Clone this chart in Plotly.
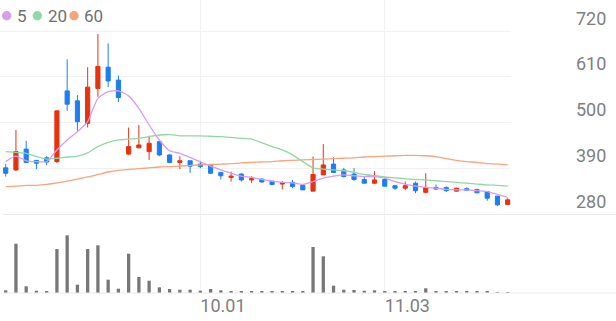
import plotly.graph_objects as go

# ---------------- data ----------------
idx = list(range(50))
opens = [391, 386, 436, 409, 415, 406, 576, 552, 498, 582,
         633, 602, 424, 439, 430, 454, 422, 404, 408, 400,
         398, 380, 368, 376, 362, 364, 359, 352, 356, 349,
         335, 374, 400, 386, 376, 363, 354, 363, 348, 342,
         354, 332, 344, 344, 335, 341, 339, 334, 323, 303]
highs = [400, 482, 456, 409, 419, 528, 652, 566, 633, 713,
         690, 613, 488, 494, 468, 456, 424, 419, 408, 406,
         400, 380, 382, 378, 371, 365, 359, 359, 362, 350,
         418, 448, 416, 391, 390, 370, 383, 366, 350, 358,
         358, 378, 351, 346, 343, 344, 340, 335, 323, 318]
lows = [370, 383, 403, 388, 397, 402, 528, 480, 488, 562,
        585, 549, 422, 439, 410, 419, 402, 388, 379, 390,
        376, 363, 358, 358, 355, 355, 349, 339, 342, 338,
        335, 374, 379, 368, 360, 354, 352, 346, 338, 338,
        330, 330, 338, 333, 334, 335, 330, 312, 299, 303]
closes = [378, 430, 404, 402, 405, 528, 544, 502, 585, 635,
          600, 560, 442, 446, 450, 422, 404, 408, 395, 394,
          378, 372, 371, 362, 365, 357, 351, 355, 346, 338,
          375, 398, 380, 370, 363, 354, 362, 347, 342, 348,
          336, 344, 340, 336, 342, 337, 331, 318, 302, 314]
ma5 = [406, 419, 408, 406, 406, 434, 458, 478, 502, 558,
       574, 576, 564, 534, 494, 458, 432, 426, 416, 406,
       395, 386, 378, 371, 368, 363, 359, 356, 355, 351,
       358, 366, 371, 374, 372, 370, 370, 366, 358, 352,
       347, 344, 342, 339, 338, 338, 336, 334, 327, 320]
ma20 = [430, 428, 426, 418, 412, 414, 417, 419, 427, 442,
        452, 458, 460, 462, 466, 470, 471, 468, 468, 468,
        467, 466, 464, 462, 460, 451, 442, 434, 422, 406,
        391, 388, 386, 384, 380, 375, 372, 369, 367, 365,
        363, 362, 360, 358, 356, 354, 352, 350, 349, 347]
ma60 = [346, 347, 349, 349, 351, 355, 359, 364, 369, 375,
        381, 385, 387, 389, 391, 393, 394, 395, 397, 398,
        399, 400, 401, 403, 404, 405, 406, 408, 409, 410,
        411, 412, 413, 414, 415, 417, 418, 419, 420, 421,
        421, 420, 418, 413, 409, 406, 404, 401, 400, 398]
volume = [54, 986, 134, 46, 34, 880, 1154, 166, 880, 954,
          266, 86, 786, 320, 246, 114, 80, 66, 66, 46,
          80, 54, 40, 26, 26, 26, 26, 26, 26, 26,
          920, 734, 146, 66, 60, 46, 54, 40, 26, 34,
          40, 94, 24, 24, 24, 24, 24, 24, 18, 18]
tick_idx = [19, 37]
tick_text = ["10.01", "11.03"]
price_ticks = [280, 390, 500, 610, 720]
legend_names = ["5", "20", "60"]

# ---------------- style ----------------
W, H = 616, 321
PLOT_R = 511
RED = "#e8320e"
BLUE = "#1c7ef0"
C5, C20, C60 = "#d79cf0", "#90d9a2", "#f8a47d"
GRID = "#f1f1f1"
LABEL = "#808080"
FONT = "Roboto"

fig = go.Figure()
fig.add_trace(go.Candlestick(
    x=idx, open=opens, high=highs, low=lows, close=closes,
    increasing=dict(line=dict(color=RED, width=1), fillcolor=RED),
    decreasing=dict(line=dict(color=BLUE, width=1), fillcolor=BLUE),
    whiskerwidth=0, xaxis="x", yaxis="y", showlegend=False, hoverinfo="skip"))
for vals, col in [(ma60, C60), (ma20, C20), (ma5, C5)]:
    fig.add_trace(go.Scatter(x=idx, y=vals, mode="lines",
                             line=dict(color=col, width=1.3, shape="spline", smoothing=0.6),
                             xaxis="x", yaxis="y", showlegend=False, hoverinfo="skip"))
fig.add_trace(go.Bar(x=idx, y=volume, marker=dict(color="#777777", line=dict(width=0)),
                     width=0.32, xaxis="x2", yaxis="y2", showlegend=False, hoverinfo="skip"))

xr = [-5.7 / 10.245, (PLOT_R - 5.7) / 10.245]
fig.update_layout(
    width=W, height=H, margin=dict(l=0, r=W - PLOT_R, t=0, b=0),
    paper_bgcolor="white", plot_bgcolor="white", showlegend=False,
    boxgap=0.42,
    xaxis=dict(domain=[0, 1], range=xr, anchor="y", tickvals=tick_idx,
               showticklabels=False, showgrid=True, gridcolor=GRID, gridwidth=1,
               zeroline=False, rangeslider=dict(visible=False), ticks=""),
    yaxis=dict(domain=[1 - 214 / H, 1], range=[280, 280 + 214 * 110 / 45.75],
               side="right", tickvals=price_ticks, ticks="",
               ticklabelposition="outside top", ticklabelstandoff=64,
               tickfont=dict(family=FONT, size=18, color=LABEL),
               showgrid=True, gridcolor=GRID, zeroline=False),
    xaxis2=dict(domain=[0, 1], range=xr, anchor="y2", tickvals=tick_idx,
                ticktext=tick_text, ticks="", ticklabelposition="outside right",
                tickfont=dict(family=FONT, size=18, color=LABEL),
                showgrid=True, gridcolor=GRID, zeroline=False),
    yaxis2=dict(domain=[1 - 293 / H, 1 - 215 / H], range=[0, 1560],
                showticklabels=False, showgrid=False, zeroline=False),
)

xfull = W / PLOT_R
for ypx in [214.5, 293]:
    fig.add_shape(type="line", xref="paper", yref="paper", x0=3 / PLOT_R, x1=xfull,
                  y0=1 - ypx / H, y1=1 - ypx / H, line=dict(color="#ebebeb", width=1.2))

# legend (dots + labels)
dots = [6.7, 37.3, 74.0]
texts = [16.0, 46.5, 82.5]
for name, col, dx, tx in zip(legend_names, [C5, C20, C60], dots, texts):
    r = 4.7
    fig.add_shape(type="circle", xref="paper", yref="paper",
                  x0=(dx - r) / PLOT_R, x1=(dx + r) / PLOT_R,
                  y0=1 - (15.7 + r) / H, y1=1 - (15.7 - r) / H,
                  fillcolor=col, line=dict(width=0))
    fig.add_annotation(xref="paper", yref="paper", x=(tx - 1) / PLOT_R, y=1 - 16 / H,
                       xanchor="left", yanchor="middle", showarrow=False, text=name,
                       font=dict(family=FONT, size=17, color="#707070"))

fig.write_html("out.html")
